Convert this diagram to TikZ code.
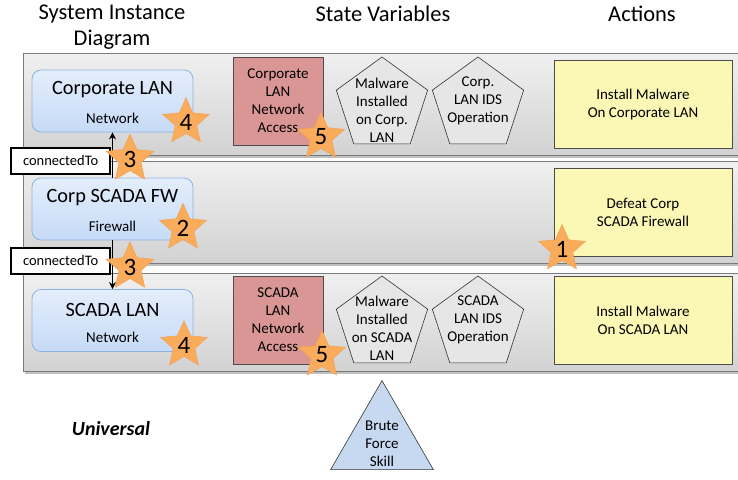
\documentclass[tikz,border=0pt]{standalone}
\usepackage{fontspec}
\setmainfont{Carlito}
\usetikzlibrary{shapes.geometric,arrows.meta}

\definecolor{bandtop}{HTML}{F0F0F0}
\definecolor{bandbot}{HTML}{D2D2D2}
\definecolor{bandline}{HTML}{7A7A7A}
\definecolor{nettop}{HTML}{E4EEFC}
\definecolor{netbot}{HTML}{C6DAF6}
\definecolor{netline}{HTML}{8DB3E2}
\definecolor{accessfill}{HTML}{D99694}
\definecolor{actfill}{HTML}{FBF7B5}
\definecolor{skillfill}{HTML}{C6D9F1}
\definecolor{starfill}{HTML}{F9AC5C}
\definecolor{starline}{HTML}{F3A04E}
\definecolor{pentfill}{HTML}{E6E6E6}

\tikzset{
  px/.style={x=1pt,y=-1pt},
  band/.style={draw=bandline,line width=1pt,top color=bandtop,bottom color=bandbot},
  netbox/.style={draw=netline,line width=0.8pt,rounded corners=9pt,top color=nettop,bottom color=netbot,
    minimum width=161pt,minimum height=62pt,inner sep=0pt},
  bigname/.style={font=\fontsize{20.3}{22}\selectfont},
  typename/.style={font=\fontsize{15}{17}\selectfont},
  smalltext/.style={font=\fontsize{15}{18}\selectfont},
  accessbox/.style={draw=black!70,line width=0.8pt,fill=accessfill,minimum width=90pt,minimum height=88pt,
    align=center,smalltext,inner sep=0pt},
  statevar/.style={regular polygon,regular polygon sides=5,draw=black!80,line width=0.6pt,fill=pentfill,
    minimum size=96pt,inner sep=0pt},
  svtext/.style={align=center,smalltext},
  actbox/.style={draw=black!70,line width=0.8pt,fill=actfill,minimum width=178pt,minimum height=88pt,
    align=center,smalltext,inner sep=0pt},
  relbox/.style={draw=black,line width=1.8pt,fill=white,minimum width=99pt,minimum height=26pt,
    inner sep=0pt,font=\fontsize{14.5}{16}\selectfont},
  badge/.style={star,star points=5,star point ratio=2.15,minimum size=46pt,inner sep=0pt,
    fill=starfill,draw=starline,line width=0.5pt,font=\fontsize{25}{25}\selectfont},
  header/.style={align=center,font=\fontsize{22.5}{26}\selectfont},
  link/.style={-{Stealth[length=7pt,width=7pt]},line width=1.7pt,black}
}

\begin{document}
\begin{tikzpicture}[px]
\useasboundingbox (0,0) rectangle (738,479);

% column headings
\node[header] (h1) at (112,27) {System Instance\\Diagram};
\node[header] (h2) at (383,14) {State Variables};
\node[header] (h3) at (642,14) {Actions};

% the three bands with their soft drop shadow
\fill[black!25] (25,56) rectangle (740,158);
\fill[black!25] (25,164) rectangle (740,266);
\fill[black!25] (25,276) rectangle (740,374);
\draw[band] (23,53) rectangle (739,155);
\draw[band] (23,161) rectangle (739,263);
\draw[band] (23,273) rectangle (739,371);

% system instance nodes
\node[netbox] (corp) at (112.5,101) {};
\node[bigname] (corpname) at ([yshift=11pt]corp.center) {Corporate LAN};
\node[typename] (corptype) at ([yshift=-17pt]corp.center) {Network};

\node[netbox] (fw) at (112.5,209) {};
\node[bigname] (fwname) at ([yshift=11pt]fw.center) {Corp SCADA FW};
\node[typename] (fwtype) at ([yshift=-17pt]fw.center) {Firewall};

\node[netbox] (scada) at (112.5,320.5) {};
\node[bigname] (scadaname) at ([yshift=11pt]scada.center) {SCADA LAN};
\node[typename] (scadatype) at ([yshift=-17pt]scada.center) {Network};

% connectedTo relations: labels first, arrows on top of them
\node[relbox,anchor=north east] (rel1) at (111,147) {connectedTo};
\node[relbox,anchor=north east] (rel2) at (111,247) {connectedTo};
\draw[link] (fw.north) -- (corp.south);
\draw[link] (fw.south) -- (scada.north);

% state variables
\node[accessbox] (corpacc) at (278,101) {Corporate\\LAN\\Network\\Access};
\node[accessbox] (scadaacc) at (278,320) {SCADA\\LAN\\Network\\Access};

\node[statevar] (mw1) at (382,105) {};
\node[svtext] (mw1t) at (382,110) {Malware\\Installed\\on Corp.\\LAN};
\node[statevar] (ids1) at (478,105) {};
\node[svtext] (ids1t) at (478,101) {Corp.\\LAN IDS\\Operation};

\node[statevar] (mw2) at (382,324) {};
\node[svtext] (mw2t) at (382,328) {Malware\\Installed\\on SCADA\\LAN};
\node[statevar] (ids2) at (478,324) {};
\node[svtext] (ids2t) at (478,320) {SCADA\\LAN IDS\\Operation};

% actions
\node[actbox] (act1) at (643,104) {Install Malware\\On Corporate LAN};
\node[actbox] (act2) at (643,212.5) {Defeat Corp\\SCADA Firewall};
\node[actbox] (act3) at (643,320) {Install Malware\\On SCADA LAN};

% universal skill
\node[font=\fontsize{20}{22}\selectfont\bfseries\itshape] (univ) at (111,429) {Universal};
\node[isosceles triangle,isosceles triangle apex angle=60,shape border rotate=90,draw=black!80,
  line width=0.6pt,fill=skillfill,minimum height=89pt,inner sep=0pt] (brute) at (382,440) {};
\node[svtext] (brutet) at (382,444) {Brute\\Force\\Skill};

% numbered badges
\node[badge] (s4a) at (186,122) {4};
\node[badge] (s3a) at (130,159) {3};
\node[badge] (s5a) at (321,137) {5};
\node[badge] (s2)  at (183,228) {2};
\node[badge] (s3b) at (130,267) {3};
\node[badge] (s4b) at (184,345) {4};
\node[badge] (s5b) at (322,355) {5};
\node[badge] (s1)  at (562,249) {1};
\end{tikzpicture}
\end{document}
